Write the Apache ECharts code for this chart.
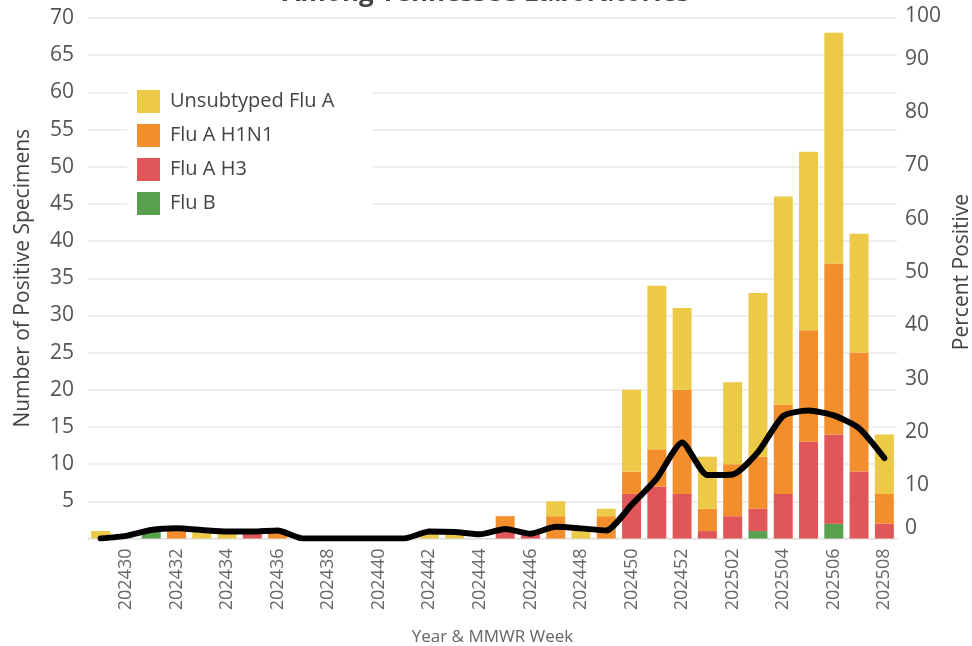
<!DOCTYPE html>
<html>
<head>
<meta charset="utf-8">
<script src="https://cdn.jsdelivr.net/npm/echarts@6/dist/echarts.min.js"></script>
<style>
html,body{margin:0;padding:0;background:#fff;}
#chart{width:972px;height:646px;}
</style>
</head>
<body>
<div id="chart"></div>
<script>
const weeks = ['202429','202430','202431','202432','202433','202434','202435','202436','202437','202438','202439','202440','202441','202442','202443','202444','202445','202446','202447','202448','202449','202450','202451','202452','202501','202502','202503','202504','202505','202506','202507','202508'];
const fluB   = [0,0,1,0,0,0,0,0,0,0,0,0,0,0,0,0,0,0,0,0,0,0,0,0,0,0,1,0,0,2,0,0];
const fluAH3 = [0,0,0,0,0,0,1,0,0,0,0,0,0,0,0,0,1,1,0,0,0,6,7,6,1,3,3,6,13,12,9,2];
const fluAH1N1 = [0,0,0,1,0,0,0,1,0,0,0,0,0,0,0,0,2,0,3,0,3,3,5,14,3,7,7,12,15,23,16,4];
const unsubtypedFluA = [1,0,0,0,1,1,0,0,0,0,0,0,0,1,1,0,0,0,2,1,1,11,22,11,7,11,22,28,24,31,16,8];
const percentPositive = [0,0.5,1.6,1.9,1.6,1.3,1.3,1.5,0,0,0,0,0,1.3,1.2,0.8,1.8,0.9,2.2,1.9,1.5,6.3,11.3,18.0,11.9,12.0,16.2,23.0,24.0,23.1,20.7,15.1];

const FONT = "'Open Sans', 'Noto Sans', sans-serif";
const chart = echarts.init(document.getElementById('chart'), null, {renderer:'canvas'});

const barSeries = (name, data, color) => ({
  name, type:'bar', stack:'flu', data, xAxisIndex:0, yAxisIndex:0,
  barCategoryGap:'25%', itemStyle:{color}, emphasis:{disabled:true}
});

chart.setOption({
  animation:false,
  backgroundColor:'#fff',
  title:{
    text:'Among Tennessee Laboratories', left:'center', top:-24,
    textStyle:{fontFamily:FONT, fontSize:26, fontWeight:'bold', color:'#444'}
  },
  legend:{
    left:127, top:86, orient:'vertical', itemWidth:23, itemHeight:23, itemGap:11,
    backgroundColor:'#fff', padding:[4,38,4,10],
    icon:'rect',
    data:['Unsubtyped Flu A','Flu A H1N1','Flu A H3','Flu B'],
    textStyle:{fontFamily:FONT, fontSize:20, color:'#444', padding:[0,0,0,5]}
  },
  grid:[
    {left:88, right:75, top:18, bottom:107.5, outerBoundsMode:'none', containLabel:false},
    {left:88, right:75, top:5.5, bottom:107.5, outerBoundsMode:'none', containLabel:false}
  ],
  xAxis:[
    {type:'category', gridIndex:0, data:weeks, boundaryGap:true,
     axisTick:{show:false},
     axisLine:{lineStyle:{color:'#d8d8d8', type:'dotted', width:1}},
     axisLabel:{rotate:90, interval:(i)=> i % 2 === 1, fontFamily:FONT, fontSize:18, color:'#666', margin:10},
     name:'Year & MMWR Week', nameLocation:'middle', nameGap:90,
     nameTextStyle:{fontFamily:FONT, fontSize:17, color:'#666'}
    },
    {type:'category', gridIndex:1, data:weeks, boundaryGap:true, show:false}
  ],
  yAxis:[
    {type:'value', gridIndex:0, min:0, max:70, interval:5, position:'left',
     axisLine:{show:false}, axisTick:{show:false},
     splitLine:{lineStyle:{color:'#eeeeee', width:2}},
     axisLabel:{showMinLabel:false, fontFamily:FONT, fontSize:21, color:'#555', margin:14},
     name:'Number of Positive Specimens', nameLocation:'middle', nameGap:54, nameRotate:90,
     nameTextStyle:{fontFamily:FONT, fontSize:21, color:'#444'}
    },
    {type:'value', gridIndex:1, min:0, max:100, interval:10, position:'right',
     axisLine:{show:false}, axisTick:{show:false}, splitLine:{show:false},
     axisLabel:{fontFamily:FONT, fontSize:21, color:'#555', margin:8,
       verticalAlignMinLabel:'bottom', verticalAlignMaxLabel:'top'},
     name:'Percent Positive', nameLocation:'middle', nameGap:52, nameRotate:90,
     nameTextStyle:{fontFamily:FONT, fontSize:21, color:'#444'}
    }
  ],
  series:[
    barSeries('Flu B', fluB, '#59A14F'),
    barSeries('Flu A H3', fluAH3, '#E15759'),
    barSeries('Flu A H1N1', fluAH1N1, '#F28E2B'),
    barSeries('Unsubtyped Flu A', unsubtypedFluA, '#EDC948'),
    {name:'Percent Positive', type:'line', data:percentPositive, xAxisIndex:1, yAxisIndex:1,
     showSymbol:false, smooth:0.2, z:10,
     lineStyle:{color:'#000', width:6, cap:'round', join:'round'},
     emphasis:{disabled:true}}
  ]
});
</script>
</body>
</html>
